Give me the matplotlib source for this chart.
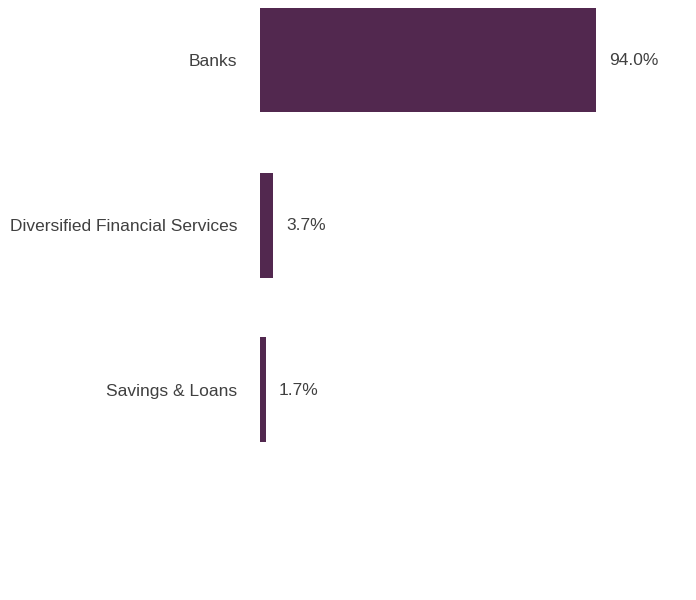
import matplotlib
matplotlib.use("Agg")
from matplotlib import pyplot as plt

categories = ["Banks", "Diversified Financial Services", "Savings & Loans"]
values = [94.0, 3.7, 1.7]

BAR_COLOR = "#52284f"
TEXT_COLOR = "#404040"

plt.rcParams["font.family"] = ["Liberation Sans Narrow", "Liberation Sans", "DejaVu Sans"]

fig = plt.figure(figsize=(6.96, 6.0), dpi=100)
ax = fig.add_axes([260 / 696, 0.0, 420 / 696, 1.0])

positions = list(range(len(categories)))
ax.barh(positions, values, height=105 / 165, color=BAR_COLOR)

ax.set_xlim(0, 420 / (336 / 94.0))
ax.set_ylim(540 / 165, -60 / 165)

for y, v in zip(positions, values):
    ax.text(v + 13 * 94.0 / 336, y + 0.006, f"{v:.1f}%", va="center", ha="left",
            fontsize=12.5, color=TEXT_COLOR)

ax.set_yticks(positions)
ax.set_yticklabels(categories, fontsize=12.5, color=TEXT_COLOR)
ax.tick_params(axis="y", length=0, pad=16.5)
ax.set_xticks([])
for s in ax.spines.values():
    s.set_visible(False)

fig.savefig("out.png", dpi=100)
